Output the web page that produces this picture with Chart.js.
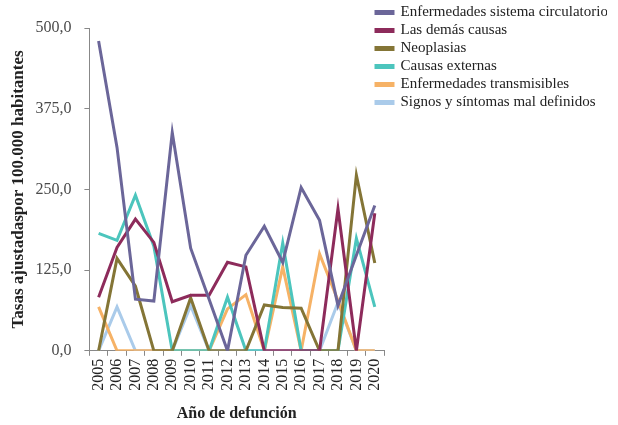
<!DOCTYPE html>
<html>
<head>
<meta charset="utf-8">
<script src="https://cdn.jsdelivr.net/npm/chart.js@4"></script>
<style>
  html, body { margin: 0; padding: 0; background: #fff; }
  #wrap { width: 618px; height: 425px; }
</style>
</head>
<body>
<div id="wrap"><canvas id="grafico"></canvas></div>
<script>
// --- datos ---
const anios = ["2005", "2006", "2007", "2008", "2009", "2010", "2011", "2012",
  "2013", "2014", "2015", "2016", "2017", "2018", "2019", "2020"];

const circulatorio = [480, 315, 80, 77, 338, 159, 80, 0, 148, 193, 137, 253, 202, 70, 148, 225];
const demasCausas = [83, 160, 204, 168, 76, 86, 86, 137, 130, 0, 0, 0, 0, 220, 0, 213];
const neoplasias = [0, 143, 100, 0, 0, 82, 0, 0, 0, 71, 67, 66, 0, 0, 272, 136];
const causasExternas = [182, 171, 241, 162, 0, 0, 0, 83, 0, 0, 167, 0, 0, 0, 174, 68];
const transmisibles = [68, 0, 0, 0, 0, 0, 0, 65, 87, 0, 130, 0, 150, 78, 0, 0];
const signos = [0, 68, 0, 0, 0, 70, 0, 0, 0, 0, 0, 0, 0, 75, 0, 0];

const yTicks = [0, 125, 250, 375, 500];

const fuente = "'Liberation Serif', 'DejaVu Serif', serif";

function serie(label, data, color) {
  return {
    label,
    data,
    borderColor: color,
    backgroundColor: color,
    borderWidth: 3,
    pointRadius: 0,
    tension: 0,
    fill: false
  };
}

// la leyenda del original se mete un poco sobre el borde derecho del gráfico
const moverLeyenda = {
  id: "moverLeyenda",
  afterLayout(chart) {
    const lg = chart.legend;
    if (!lg) return;
    lg.left -= 11;
    lg.right -= 11;
  }
};

new Chart(document.querySelector("#grafico").getContext("2d"), {
  type: "line",
  data: {
    labels: anios,
    datasets: [
      serie("Enfermedades sistema circulatorio", circulatorio, "#6b6699"),
      serie("Las demás causas", demasCausas, "#8d2b5b"),
      serie("Neoplasias", neoplasias, "#847536"),
      serie("Causas externas", causasExternas, "#4cc5bd"),
      serie("Enfermedades transmisibles", transmisibles, "#f6b266"),
      serie("Signos y síntomas mal definidos", signos, "#aacbea")
    ]
  },
  plugins: [moverLeyenda],
  options: {
    responsive: true,
    maintainAspectRatio: false,
    animation: false,
    layout: { padding: { top: 2, left: 2, right: 0, bottom: 2 } },
    plugins: {
      tooltip: { enabled: false },
      legend: {
        position: "right",
        align: "start",
        maxWidth: 234,
        labels: {
          boxWidth: 17,
          boxHeight: 2,
          padding: 3,
          color: "#222",
          font: { family: fuente, size: 15 }
        }
      }
    },
    scales: {
      x: {
        offset: true,
        grid: {
          display: true,
          drawOnChartArea: false,
          offset: true,
          color: "#888",
          tickLength: 5
        },
        border: { color: "#888" },
        ticks: {
          autoSkip: false,
          minRotation: 90,
          maxRotation: 90,
          color: "#222",
          padding: 3,
          font: { family: fuente, size: 16 }
        },
        title: {
          display: true,
          text: "Año de defunción",
          color: "#222",
          padding: { top: 10, bottom: 0 },
          font: { family: fuente, size: 16, weight: "bold" }
        }
      },
      y: {
        min: 0,
        max: 500,
        afterBuildTicks: (eje) => { eje.ticks = yTicks.map(v => ({ value: v })); },
        afterFit: (eje) => { eje.paddingTop = 28; },
        grid: {
          display: true,
          drawOnChartArea: false,
          color: "#888",
          tickLength: 5
        },
        border: { color: "#888" },
        ticks: {
          color: "#4a4a4a",
          padding: 13,
          font: { family: fuente, size: 16 },
          callback: (v) => v.toFixed(1).replace(".", ",")
        },
        title: {
          display: true,
          text: "Tasas ajustadaspor 100.000 habitantes",
          color: "#222",
          padding: { top: 6, bottom: -6 },
          font: { family: fuente, size: 17, weight: "bold" }
        }
      }
    }
  }
});
</script>
</body>
</html>
